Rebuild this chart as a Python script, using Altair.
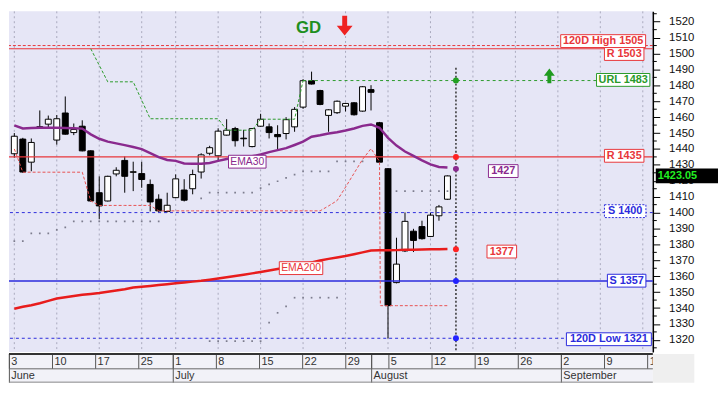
import altair as alt
import pandas as pd

W, H = 652, 345
BAND_H = 29

# ---------------- data (index = trading day, 0 = 3 June) ----------------
opens = [1437.0, 1446.2, 1431.7, 1453.6, 1455.6, 1445.6, 1462.6, 1450.3, 1454.3, 1438.8,
         1412.5, 1407.3, 1424.3, 1432.8, 1425.3, 1424.5, 1417.7, 1408.4, 1400.7, 1409.4,
         1414.2, 1415.0, 1425.5, 1437.3, 1435.7, 1448.7, 1452.8, 1446.8, 1441.5, 1454.3,
         1453.9, 1449.1, 1449.7, 1453.9, 1466.3, 1482.9, 1476.7, 1461.1, 1462.8, 1466.9,
         1469.0, 1463.8, 1477.3, 1456.5, 1427.6, 1356.0, 1375.9, 1388.3, 1391.2, 1385.0,
         1398.0, 1408.4]
highs = [1450.0, 1447.0, 1446.6, 1464.2, 1461.0, 1461.3, 1473.0, 1456.0, 1458.0, 1439.2,
         1422.8, 1423.2, 1428.5, 1435.3, 1432.0, 1432.0, 1420.8, 1411.5, 1412.5, 1424.0,
         1421.0, 1427.0, 1437.3, 1442.0, 1453.0, 1458.7, 1453.9, 1452.0, 1453.0, 1462.1,
         1456.0, 1454.9, 1460.0, 1466.3, 1483.9, 1488.6, 1477.2, 1465.0, 1470.5, 1469.0,
         1469.5, 1479.5, 1480.1, 1457.0, 1428.0, 1384.2, 1400.1, 1389.8, 1394.9, 1400.0,
         1404.8, 1423.3]
lows = [1434.5, 1425.0, 1426.0, 1452.8, 1452.8, 1442.7, 1449.0, 1448.7, 1438.5, 1407.0,
        1396.0, 1407.0, 1422.8, 1412.5, 1413.5, 1415.6, 1400.7, 1400.0, 1400.1, 1409.0,
        1407.0, 1411.5, 1421.4, 1436.0, 1433.0, 1448.5, 1441.5, 1441.5, 1441.0, 1453.9,
        1446.6, 1439.4, 1446.0, 1450.8, 1465.2, 1480.5, 1467.5, 1450.8, 1462.0, 1463.6,
        1461.0, 1463.5, 1464.2, 1431.0, 1320.9, 1355.5, 1375.2, 1375.2, 1383.0, 1384.6,
        1394.9, 1408.0]
closes = [1448.0, 1425.5, 1444.1, 1454.0, 1458.7, 1459.0, 1449.3, 1452.2, 1438.8, 1407.3,
          1404.2, 1422.8, 1426.6, 1422.8, 1425.7, 1420.8, 1406.7, 1401.1, 1404.6, 1421.2,
          1407.8, 1423.9, 1436.3, 1440.8, 1451.2, 1451.8, 1445.2, 1446.4, 1452.8, 1458.7,
          1450.3, 1447.7, 1458.4, 1464.9, 1482.9, 1480.8, 1468.0, 1464.6, 1470.0, 1468.6,
          1461.5, 1479.1, 1475.6, 1431.7, 1341.5, 1367.6, 1394.5, 1382.5, 1383.6, 1398.4,
          1403.6, 1423.05]
ema30 = [1454.8, 1452.9, 1453.2, 1453.3, 1453.3, 1453.3, 1453.2, 1453.0, 1452.8, 1449.2,
         1446.4, 1444.6, 1443.5, 1442.4, 1441.2, 1439.9, 1437.4, 1434.9, 1433.1, 1432.5,
         1430.9, 1430.7, 1430.7, 1431.2, 1432.5, 1433.7, 1434.6, 1435.1, 1435.4, 1436.5,
         1438.0, 1439.3, 1440.5, 1442.5, 1444.6, 1447.7, 1448.6, 1449.7, 1450.5, 1451.6,
         1452.9, 1454.5, 1455.4, 1453.3, 1447.0, 1442.1, 1438.4, 1435.6, 1432.8, 1430.3,
         1428.7, 1428.4]
ema200 = [1339.6, 1340.8, 1341.8, 1343.0, 1344.5, 1346.0, 1346.8, 1347.6, 1348.3, 1348.8,
          1349.4, 1350.2, 1351.0, 1351.8, 1352.9, 1353.4, 1353.9, 1354.5, 1355.0, 1355.6,
          1356.1, 1356.6, 1357.1, 1357.8, 1358.6, 1359.3, 1360.1, 1360.9, 1361.8, 1362.7,
          1363.6, 1364.5, 1365.5, 1366.6, 1367.6, 1368.7, 1369.9, 1370.9, 1371.8, 1372.7,
          1373.8, 1375.0, 1376.2, 1376.3, 1376.3, 1376.4, 1376.6, 1376.7, 1376.8, 1376.9,
          1377.0, 1377.1]
red_stop_i = list(range(0, 44)) + [43.1] + list(range(44, 52))
red_stop_v = [1440.0, 1425.4, 1425.4, 1425.4, 1425.4, 1425.4, 1425.4, 1425.4, 1425.4, 1407.3,
              1404.5, 1404.5, 1404.5, 1404.5, 1404.5, 1404.5, 1404.5, 1401.1, 1401.1, 1401.1,
              1401.1, 1401.1, 1401.1, 1401.1, 1401.1, 1401.1, 1401.1, 1401.1, 1401.1, 1401.1,
              1401.1, 1401.1, 1401.1, 1401.1, 1401.1, 1401.1, 1401.1, 1404.2, 1407.5, 1416.0,
              1424.7, 1433.4, 1440.2, 1432.2, 1341.5, 1341.5, 1341.5, 1341.5, 1341.5, 1341.5,
              1341.5, 1341.5, 1341.5]
green_stop_i = [9, 10, 11, 12, 13, 14, 15, 16, 17, 18, 19, 20, 21, 22, 23, 24, 25, 26, 27, 28,
                29, 30, 31, 32, 33, 34]
green_stop_v = [1503.0, 1492.6, 1482.2, 1482.2, 1482.2, 1482.2, 1470.6, 1459.0, 1459.0, 1459.0,
                1459.0, 1459.0, 1459.0, 1459.0, 1459.0, 1459.0, 1451.8, 1451.8, 1451.8, 1451.8,
                1458.7, 1458.7, 1458.7, 1458.7, 1458.7, 1483.0]
dots_a_i = list(range(0, 18)) + [22, 23, 24, 25, 26, 27, 28, 29, 30, 31, 32, 33, 34, 35, 36, 37,
                                 38, 39, 40, 41, 45, 46, 47, 48, 49, 50, 51]
dots_a_v = [1382.1, 1382.1, 1387.0, 1387.0, 1387.0, 1389.1, 1390.7, 1394.5, 1394.5, 1394.5,
            1394.5, 1394.5, 1394.5, 1394.5, 1394.5, 1394.5, 1394.5, 1394.5,
            1408.9, 1412.5, 1412.5, 1412.5, 1412.5, 1412.5, 1412.5, 1415.4, 1417.7, 1419.7,
            1421.8, 1423.9, 1425.9, 1425.9, 1425.9, 1425.9, 1432.2, 1432.2, 1432.2, 1432.2,
            1413.5, 1413.5, 1413.5, 1413.5, 1413.5, 1413.5, 1413.5]
dots_b_i = [23, 24, 25, 26, 27, 28, 29, 30, 31, 32, 33, 34, 35, 36, 37, 38]
dots_b_v = [1319.2, 1319.2, 1319.2, 1319.2, 1319.2, 1319.2, 1319.2, 1330.8, 1337.0, 1341.1,
            1346.5, 1346.5, 1346.5, 1346.5, 1346.5, 1346.5]

week_i = [0, 5, 10, 15, 19, 24, 29, 34, 39, 44, 49, 54, 59, 64, 69, 74]
week_lbl = ["3", "10", "17", "25", "1", "8", "15", "22", "29", "5", "12", "19", "26", "2", "9", "16"]
month_i = [0, 19, 42, 64]
month_lbl = ["June", "July", "August", "September"]

end_i = 52
end_dots_v = [1483, 1435, 1427.5, 1377, 1357, 1321]
end_dots_c = ["#22a022", "#ff2222", "#8a2a8e", "#ff2222", "#2222ff", "#2222ff"]
last_price = 1423.05

# ---------------- styles ----------------
RED, BLUE, GREEN, PURPLE = "#e8363a", "#2b2bdc", "#2a9a2a", "#8a2a8e"
FONT = "Liberation Sans"

xs = alt.Scale(domain=[-0.046, 74.6], nice=False, zero=False)
ys = alt.Scale(domain=[1312.35, 1526.5], nice=False, zero=False)
yaxis = alt.Axis(orient="right", values=list(range(1320, 1530, 10)), format="d", tickSize=7,
                 labelPadding=9, domainColor="#000", domainWidth=1.5, tickColor="#000",
                 labelColor="#111", labelFont=FONT, labelFontSize=11.5, grid=False,
                 title=None, labelFlush=False)


def X(f):
    return alt.X(f, type="quantitative", scale=xs, axis=None)


def Y(f):
    return alt.Y(f, type="quantitative", scale=ys, axis=yaxis)


def box_path(hw, hh=6.5):
    return f"M{-hw},{-hh}H{hw}V{hh}H{-hw}Z"


candles = pd.DataFrame({"i": range(len(opens)), "o": opens, "h": highs, "l": lows, "c": closes})
candles["dir"] = ["up" if c >= o else "down" for o, c in zip(opens, closes)]
n = len(opens)

layers = []
# week gridlines
layers.append(alt.Chart(pd.DataFrame({"i": week_i})).mark_rule(
    color="#a9a9bd", strokeDash=[2, 3], strokeWidth=1).encode(x=X("i")))

# candles
layers.append(alt.Chart(candles).mark_rule(color="#000", strokeWidth=1, clip=True).encode(
    x=X("i"), y=Y("l"), y2="h"))
layers.append(alt.Chart(candles).mark_bar(size=6, stroke="#000", strokeWidth=1, clip=True).encode(
    x=X("i"), y=Y("o"), y2="c",
    fill=alt.Fill("dir:N", scale=alt.Scale(domain=["up", "down"], range=["#ffffff", "#000000"]),
                  legend=None)))


# horizontal levels
def level(v, color, dash=None, width=1.0):
    kw = dict(color=color, strokeWidth=width)
    if dash:
        kw["strokeDash"] = dash
    return alt.Chart(pd.DataFrame({"v": [v]})).mark_rule(**kw).encode(y=Y("v"))


layers += [
    level(1505, RED, [3, 2]),
    level(1503, RED, None, 1.2),
    level(1435, RED, None, 1.3),
    level(1400, BLUE, [3, 3]),
    level(1357, BLUE, None, 1.3),
    level(1321, BLUE, [3, 3]),
]
# URL level from the breakout day to the right edge
layers.append(alt.Chart(pd.DataFrame({"i": [34], "v": [1483]})).mark_rule(
    color=GREEN, strokeDash=[3, 3], strokeWidth=1).encode(x=X("i"), x2=alt.value(W), y=Y("v")))

# minor y ticks
layers.append(alt.Chart(pd.DataFrame({"v": list(range(1315, 1530, 10))})).mark_rule(
    color="#000", strokeWidth=1).encode(y=Y("v"), x=alt.value(W), x2=alt.value(W + 4)))

# dotted bands
layers.append(alt.Chart(pd.DataFrame({"i": dots_a_i, "v": dots_a_v})).mark_square(
    size=3, color="#7d7d8e", opacity=1, clip=True).encode(x=X("i"), y=Y("v")))
layers.append(alt.Chart(pd.DataFrame({"i": dots_b_i, "v": dots_b_v})).mark_square(
    size=3, color="#7d7d8e", opacity=1, clip=True).encode(x=X("i"), y=Y("v")))

# EMAs
layers.append(alt.Chart(pd.DataFrame({"i": range(n), "v": ema200})).mark_line(
    color="#e81c1c", strokeWidth=2.5, clip=True).encode(x=X("i"), y=Y("v")))
layers.append(alt.Chart(pd.DataFrame({"i": range(n), "v": ema30})).mark_line(
    color=PURPLE, strokeWidth=2.5, clip=True).encode(x=X("i"), y=Y("v")))

# trailing stops
layers.append(alt.Chart(pd.DataFrame({"i": red_stop_i, "v": red_stop_v})).mark_line(
    color="#e85050", strokeDash=[3, 2], strokeWidth=1, clip=True).encode(x=X("i"), y=Y("v")))
layers.append(alt.Chart(pd.DataFrame({"i": green_stop_i, "v": green_stop_v})).mark_line(
    color=GREEN, strokeDash=[3, 2], strokeWidth=1, clip=True).encode(x=X("i"), y=Y("v")))

# vertical projection line and end dots
layers.append(alt.Chart(pd.DataFrame({"i": [end_i], "v": [1491]})).mark_rule(
    color="#333", strokeDash=[2, 2], strokeWidth=1.5).encode(x=X("i"), y=Y("v"), y2=alt.value(H)))
layers.append(alt.Chart(pd.DataFrame({"i": [end_i] * 6, "v": end_dots_v, "c": end_dots_c})).mark_circle(
    size=36, opacity=1).encode(x=X("i"), y=Y("v"), color=alt.Color("c:N", scale=None)))


# label boxes
def label(text, price, color, hw, x_px=None, i=None, dash=None, size=11, weight="bold"):
    df = pd.DataFrame({"t": [text], "v": [price], "i": [i if i is not None else 0]})
    xenc = alt.value(x_px) if x_px is not None else X("i")
    pkw = dict(shape=box_path(hw), size=4, filled=True, fill="#ffffff", stroke=color,
               strokeWidth=1, opacity=1)
    if dash:
        pkw["strokeDash"] = dash
    box = alt.Chart(df).mark_point(**pkw).encode(x=xenc, y=Y("v"))
    txt = alt.Chart(df).mark_text(color=color, font=FONT, fontSize=size, fontWeight=weight,
                                  align="center", baseline="middle").encode(x=xenc, y=Y("v"), text="t:N")
    return [box, txt]


layers += label("120D High 1505", 1507.8, RED, 43, x_px=601.7)
layers += label("R 1503", 1499.7, RED, 20, x_px=623)
layers += label("URL 1483", 1483.4, GREEN, 27, x_px=622)
layers += label("R 1435", 1435.7, RED, 20, x_px=623)
layers += label("S 1400", 1400.9, BLUE, 21, x_px=624, dash=[2, 1.5])
layers += label("S 1357", 1357.2, BLUE, 19.5, x_px=625.5)
layers += label("120D Low 1321", 1320.4, BLUE, 43, x_px=607.5)
layers += label("1427", 1426.1, PURPLE, 15, i=57.57)
layers += label("1377", 1375.5, RED, 15, i=57.4)
layers += label("EMA30", 1432.0, PURPLE, 19, i=27.43, size=10.5, weight="normal")
layers += label("EMA200", 1365.1, RED, 22, i=33.76, size=10.5, weight="normal")

# GD text and arrows
layers.append(alt.Chart(pd.DataFrame({"i": [34.64], "v": [1516], "t": ["GD"]})).mark_text(
    color="#1f8f1f", font=FONT, fontSize=17, fontWeight="bold", align="center",
    baseline="middle").encode(x=X("i"), y=Y("v"), text="t:N"))
layers.append(alt.Chart(pd.DataFrame({"i": [38.9], "v": [1517.5]})).mark_point(
    shape="M-2.5,-10H2.5V0H8L0,10L-8,0H-2.5Z", size=4, filled=True, fill="#ee2222",
    strokeWidth=0, opacity=1).encode(x=X("i"), y=Y("v")))
layers.append(alt.Chart(pd.DataFrame({"i": [63.0], "v": [1486]})).mark_point(
    shape="M-2,7.5H2V0H5.5L0,-7.5L-5.5,0H-2Z", size=4, filled=True, fill="#1f9a1f",
    strokeWidth=0, opacity=1).encode(x=X("i"), y=Y("v")))

# last price tag
lp = pd.DataFrame({"v": [last_price], "t": [f"{last_price:.2f}"]})
layers.append(alt.Chart(lp).mark_point(shape=box_path(31.5, 7.5), size=4, filled=True,
                                       fill="#000000", strokeWidth=0, opacity=1).encode(
    x=alt.value(W + 34.5), y=Y("v")))
layers.append(alt.Chart(lp).mark_text(color="#22ee22", font=FONT, fontSize=11, fontWeight="bold",
                                      align="left", baseline="middle").encode(
    x=alt.value(W + 5), y=Y("v"), text="t:N"))

main = alt.layer(*layers).properties(width=W, height=H,
                                     view=alt.ViewBackground(fill="#e6e6f6", strokeWidth=0))

# ---------------- date band ----------------
one = pd.DataFrame({"k": [0]})
sep_i = sorted(set(week_i + month_i))
band_layers = [
    alt.Chart(one).mark_rect(color="#efefef").encode(
        x=alt.value(W), x2=alt.value(W + 42), y=alt.value(0), y2=alt.value(BAND_H)),
    alt.Chart(pd.DataFrame({"i": sep_i})).mark_rule(color="#555", strokeWidth=1).encode(
        x=X("i"), y=alt.value(0), y2=alt.value(15)),
    alt.Chart(pd.DataFrame({"i": month_i})).mark_rule(color="#555", strokeWidth=1).encode(
        x=X("i"), y=alt.value(0), y2=alt.value(BAND_H)),
    alt.Chart(one).mark_rule(color="#666", strokeWidth=1).encode(
        x=alt.value(0), x2=alt.value(W), y=alt.value(15)),
    alt.Chart(one).mark_rule(color="#888", strokeWidth=1).encode(
        x=alt.value(0), x2=alt.value(W), y=alt.value(BAND_H - 0.5)),
    alt.Chart(one).mark_rule(color="#333", strokeWidth=2).encode(
        x=alt.value(0), x2=alt.value(W), y=alt.value(0)),
    alt.Chart(pd.DataFrame({"i": week_i, "t": week_lbl})).mark_text(
        align="left", baseline="middle", dx=2, font=FONT, fontSize=11, color="#333", clip=True).encode(
        x=X("i"), y=alt.value(8), text="t:N"),
    alt.Chart(pd.DataFrame({"i": month_i, "t": month_lbl})).mark_text(
        align="left", baseline="middle", dx=2, font=FONT, fontSize=11, color="#333", clip=True).encode(
        x=X("i"), y=alt.value(22), text="t:N"),
]
band = alt.layer(*band_layers).properties(width=W, height=BAND_H,
                                          view=alt.ViewBackground(fill="#f2f2f8", strokeWidth=0))

chart = alt.vconcat(main, band, spacing=0).properties(padding=0).configure_view(
    strokeWidth=0).configure(background="white")

chart.save("out.html", embed_options={"renderer": "svg", "actions": False})
